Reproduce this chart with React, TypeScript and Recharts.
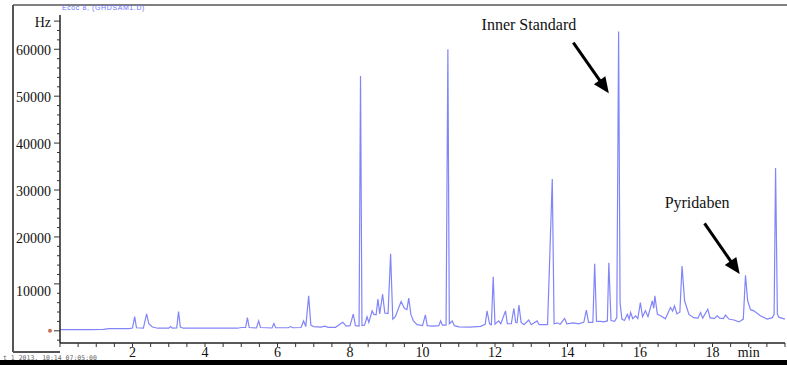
import React from "react";
import { LineChart, Line, XAxis, YAxis, ReferenceLine, ReferenceDot } from "recharts";

// retention time (min) and detector signal (Hz)
const retentionTimes = [
  0.0, 0.8, 1.2, 1.35, 1.9, 2.0, 2.06, 2.11, 2.3, 2.39,
  2.45, 2.55, 2.7, 3.0, 3.05, 3.1, 3.22, 3.27, 3.32, 3.4,
  4.9, 5.0, 5.12, 5.17, 5.22, 5.42, 5.48, 5.53, 5.85, 5.9,
  5.95, 6.3, 6.36, 6.42, 6.65, 6.72, 6.78, 6.86, 6.92, 7.0,
  7.2, 7.3, 7.4, 7.6, 7.8, 7.9, 8.0, 8.09, 8.15, 8.25,
  8.29, 8.33, 8.4, 8.47, 8.52, 8.61, 8.66, 8.72, 8.77, 8.82,
  8.9, 8.96, 9.05, 9.12, 9.18, 9.25, 9.3, 9.41, 9.5, 9.57,
  9.62, 9.68, 9.75, 9.85, 10.0, 10.08, 10.13, 10.3, 10.45, 10.5,
  10.55, 10.65, 10.7, 10.74, 10.82, 10.88, 11.0, 11.3, 11.6, 11.73,
  11.78, 11.85, 11.9, 11.95, 12.0, 12.1, 12.16, 12.29, 12.34, 12.45,
  12.52, 12.57, 12.61, 12.66, 12.72, 12.8, 12.93, 13.0, 13.16, 13.22,
  13.45, 13.58, 13.63, 13.72, 13.8, 13.92, 13.98, 14.17, 14.3, 14.45,
  14.52, 14.58, 14.7, 14.75, 14.8, 14.91, 15.0, 15.1, 15.14, 15.2,
  15.3, 15.36, 15.41, 15.45, 15.5, 15.57, 15.65, 15.7, 15.74, 15.8,
  15.88, 15.94, 16.01, 16.07, 16.15, 16.22, 16.34, 16.38, 16.41, 16.48,
  16.57, 16.7, 16.84, 16.9, 16.95, 17.02, 17.1, 17.16, 17.23, 17.35,
  17.48, 17.6, 17.67, 17.73, 17.87, 17.93, 18.05, 18.13, 18.2, 18.3,
  18.36, 18.45, 18.59, 18.73, 18.85, 18.91, 18.97, 19.05, 19.14, 19.32,
  19.51, 19.65, 19.7, 19.74, 19.79, 19.83, 19.97, 20.0,
];

const signalHz = [
  250, 250, 300, 480, 480, 600, 3000, 650, 550, 3600,
  1500, 800, 550, 550, 900, 550, 600, 4100, 800, 550,
  550, 700, 700, 2800, 700, 600, 2100, 700, 600, 1550,
  650, 650, 900, 650, 700, 2100, 900, 7450, 1200, 900,
  800, 1000, 750, 750, 1800, 1000, 1100, 3550, 1100, 1000,
  54300, 1100, 1200, 3000, 1800, 4250, 3500, 3400, 6740, 3600,
  7800, 3800, 3700, 16400, 2500, 3000, 4000, 6240, 4800, 4500,
  6950, 3500, 2100, 1300, 1100, 3400, 1100, 1000, 1100, 2100,
  1200, 1200, 60000, 1500, 2100, 1100, 850, 800, 950, 1400,
  4250, 1500, 1300, 11500, 1400, 2130, 1500, 4250, 1500, 1500,
  4800, 1800, 1700, 5500, 1800, 1300, 2300, 1300, 2100, 1300,
  1300, 32350, 1500, 1700, 1400, 2650, 1500, 1700, 1500, 1800,
  4400, 1800, 1800, 14300, 2000, 2000, 1900, 2100, 14500, 2200,
  2000, 2800, 63800, 6000, 2500, 2200, 3500, 2500, 3900, 2600,
  3200, 2600, 6000, 3000, 4300, 3000, 6400, 4800, 7450, 3500,
  3200, 2550, 4960, 4200, 5300, 3600, 4000, 13800, 6400, 3500,
  2800, 2700, 3900, 2700, 4600, 2800, 2600, 3200, 2700, 2600,
  3340, 2500, 2300, 1900, 2500, 11850, 6400, 4500, 4250, 3200,
  2500, 2800, 3500, 34700, 3500, 2900, 2550, 2550,
];

const xTicks = [
  0, 0.5, 1, 1.5, 2, 2.5, 3, 3.5, 4, 4.5, 5, 5.5, 6, 6.5, 7, 7.5, 8, 8.5, 9, 9.5,
  10, 10.5, 11, 11.5, 12, 12.5, 13, 13.5, 14, 14.5, 15, 15.5, 16, 16.5, 17, 17.5,
  18, 18.5, 19, 19.5, 20,
];
const xLabels: Record<number, string> = {
  2: "2", 4: "4", 6: "6", 8: "8", 10: "10", 12: "12", 14: "14", 16: "16", 18: "18", 19: "min",
};

const yTicks = [
  -2000, 0, 2000, 4000, 6000, 8000, 10000, 12000, 14000, 16000, 18000, 20000,
  22000, 24000, 26000, 28000, 30000, 32000, 34000, 36000, 38000, 40000, 42000,
  44000, 46000, 48000, 50000, 52000, 54000, 56000, 58000, 60000, 62000, 64000, 66000,
];
const yLabels: Record<number, string> = {
  10000: "10000", 20000: "20000", 30000: "30000", 40000: "40000",
  50000: "50000", 60000: "60000", 66000: "Hz",
};

const data = retentionTimes.map((t, i) => ({ t, v: signalHz[i] }));

const SERIF = '"Liberation Serif", "Times New Roman", serif';
const AXIS_X = 60;
const AXIS_Y = 343;

const YTick = (props: any) => {
  const { y, payload } = props;
  const v = payload.value;
  const label = yLabels[v];
  const major = v % 10000 === 0 || !!label;
  return (
    <g>
      <line x1={AXIS_X - (major ? 6 : 3)} x2={AXIS_X} y1={y} y2={y} stroke="#333" strokeWidth={1} />
      {label && (
        <text
          x={51}
          y={y + (v === 10000 ? 8 : 1.5)}
          textAnchor="end"
          dominantBaseline="central"
          fontFamily={SERIF}
          fontSize={14}
          fill="#111"
        >
          {label}
        </text>
      )}
      {v === 0 && <circle cx={50} cy={y} r={2} fill="#c9705c" />}
    </g>
  );
};

const XTick = (props: any) => {
  const { x, payload } = props;
  const label = xLabels[payload.value];
  return (
    <g>
      <line x1={x} x2={x} y1={AXIS_Y} y2={AXIS_Y + 4} stroke="#333" strokeWidth={1} />
      {label && (
        <text x={x} y={357} textAnchor="middle" fontFamily={SERIF} fontSize={14} fill="#111">
          {label}
        </text>
      )}
    </g>
  );
};

const Arrow = (p: any) => {
  const { x1, y1, x2, y2 } = p;
  const dx = x2 - x1;
  const dy = y2 - y1;
  const len = Math.hypot(dx, dy) || 1;
  const ux = dx / len;
  const uy = dy / len;
  const headL = 16;
  const headW = 7;
  const bx = x2 - ux * headL;
  const by = y2 - uy * headL;
  const pts = `${x2},${y2} ${bx - uy * headW},${by + ux * headW} ${bx + uy * headW},${by - ux * headW}`;
  return (
    <g>
      <line x1={x1} y1={y1} x2={bx + ux * 2} y2={by + uy * 2} stroke="#000" strokeWidth={3} />
      <polygon points={pts} fill="#000" />
    </g>
  );
};

const note = (text: string) => (p: any) => (
  <text x={p.cx} y={p.cy} dominantBaseline="central" fontFamily={SERIF} fontSize={16} fill="#111">
    {text}
  </text>
);

export default function App() {
  return (
    <div style={{ position: "absolute", left: 0, top: 0, width: 787, height: 365, background: "#fff" }}>
      <svg width={787} height={365} style={{ position: "absolute", left: 0, top: 0 }}>
        <line x1={13} y1={5} x2={787} y2={5} stroke="#808080" strokeWidth={2} />
        <line x1={13} y1={5} x2={13} y2={352} stroke="#555" strokeWidth={2} />
        <line x1={13} y1={352} x2={60} y2={352} stroke="#555" strokeWidth={2} />
        <text x={62} y={10} fontFamily="Arial, sans-serif" fontSize={7} fill="#6b72ff" letterSpacing={0.6}>
          Ecoc 8, (GHDSAM1.D)
        </text>
        <text x={3} y={359.5} fontFamily='"DejaVu Sans Mono", monospace' fontSize={6.5} fill="#666">
          t 1 2013, 10:14 07:05:00
        </text>
        <rect x={0} y={360} width={787} height={5} fill="#000" />
      </svg>
      <div style={{ position: "absolute", left: 0, top: 0 }}>
        <LineChart width={787} height={365} data={data} margin={{ top: 15, right: 2, left: 0, bottom: 0 }}>
          <XAxis
            dataKey="t"
            type="number"
            domain={[0, 20]}
            ticks={xTicks}
            interval={0}
            height={22}
            axisLine={{ stroke: "#222", strokeWidth: 1.5 }}
            tickLine={false}
            tick={<XTick />}
          />
          <YAxis
            type="number"
            domain={[-2600, 67300]}
            ticks={yTicks}
            interval={0}
            width={60}
            allowDataOverflow
            axisLine={{ stroke: "#222", strokeWidth: 1.5 }}
            tickLine={false}
            tick={<YTick />}
          />
          <Line
            dataKey="v"
            type="linear"
            stroke="#8285f8"
            strokeWidth={1.2}
            dot={false}
            isAnimationActive={false}
          />
          <ReferenceLine
            segment={[{ x: 14.16, y: 61400 }, { x: 15.14, y: 50620 }]}
            shape={Arrow}
          />
          <ReferenceLine
            segment={[{ x: 17.78, y: 22900 }, { x: 18.75, y: 12090 }]}
            shape={Arrow}
          />
          <ReferenceDot x={11.63} y={65180} r={0} shape={note("Inner Standard")} />
          <ReferenceDot x={16.68} y={27290} r={0} shape={note("Pyridaben")} />
        </LineChart>
      </div>
    </div>
  );
}
